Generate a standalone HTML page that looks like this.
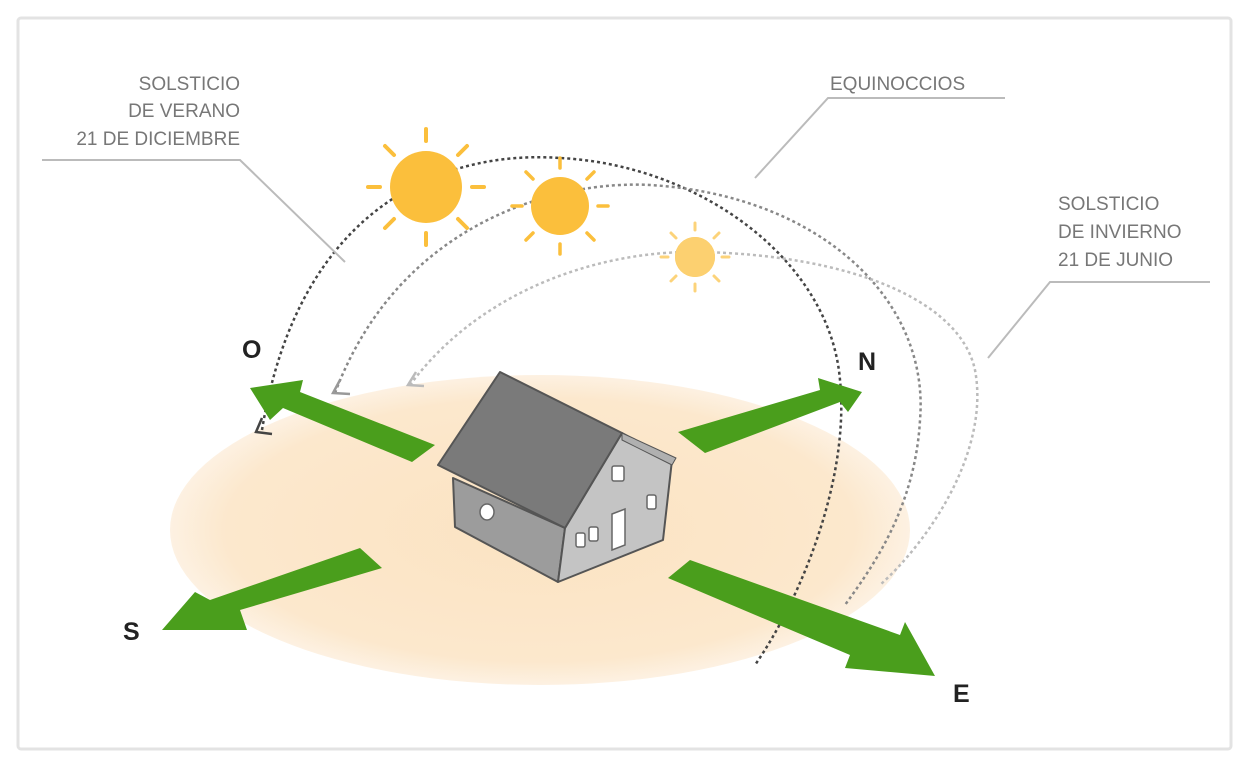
<!DOCTYPE html>
<html><head><meta charset="utf-8"><style>
html,body{margin:0;padding:0;background:#fff;}
svg{display:block;}
text{font-family:"Liberation Sans",sans-serif;}
</style></head><body>
<svg width="1250" height="769" viewBox="0 0 1250 769" xmlns="http://www.w3.org/2000/svg">
<defs>
<radialGradient id="g" cx="0.5" cy="0.5" r="0.5">
<stop offset="0" stop-color="#fbe3c2"/><stop offset="0.85" stop-color="#fce8cd"/><stop offset="1" stop-color="#fdf1e2"/>
</radialGradient>
</defs>
<rect x="18" y="18" width="1213" height="731" fill="#fff" stroke="#e3e3e3" stroke-width="3" rx="3"/>
<ellipse cx="540" cy="530" rx="370" ry="155" fill="url(#g)"/>
<!-- arcs -->
<path d="M262 430 C300 200 450 150 560 158 C700 165 830 260 840 380 C850 480 800 600 755 665" fill="none" stroke="#444" stroke-width="2.5" stroke-dasharray="3,3"/>
<path d="M335 393 C400 220 560 180 650 185 C820 195 930 300 920 420 C915 510 870 570 845 605" fill="none" stroke="#888" stroke-width="2.5" stroke-dasharray="3,3"/>
<path d="M410 385 C480 290 600 250 700 252 C850 255 960 300 975 370 C990 450 930 540 880 585" fill="none" stroke="#bbb" stroke-width="2.5" stroke-dasharray="3,3"/>
<path d="M262 418 L256 432 L272 434" fill="none" stroke="#444" stroke-width="2.5"/>
<path d="M340 380 L333 393 L350 394" fill="none" stroke="#999" stroke-width="2.5"/>
<path d="M416 372 L408 385 L424 386" fill="none" stroke="#bbb" stroke-width="2.5"/>
<!-- leader lines -->
<polyline points="42,160 240,160 345,262" fill="none" stroke="#bbb" stroke-width="2"/>
<polyline points="1005,98 828,98 755,178" fill="none" stroke="#bbb" stroke-width="2"/>
<polyline points="1210,282 1050,282 988,358" fill="none" stroke="#bbb" stroke-width="2"/>
<!-- suns -->
<g fill="#fbbf3c"><circle cx="426" cy="187" r="36"/><circle cx="560" cy="206" r="29"/><circle cx="695" cy="257" r="20"/></g>
<g stroke="#fbbf3c" stroke-width="4" stroke-linecap="round">
<g transform="translate(426,187)"><line x1="0" y1="-46" x2="0" y2="-58"/><line x1="0" y1="46" x2="0" y2="58"/><line x1="46" y1="0" x2="58" y2="0"/><line x1="-46" y1="0" x2="-58" y2="0"/><line x1="32" y1="32" x2="41" y2="41"/><line x1="-32" y1="32" x2="-41" y2="41"/><line x1="32" y1="-32" x2="41" y2="-41"/><line x1="-32" y1="-32" x2="-41" y2="-41"/></g>
<g transform="translate(560,206)" stroke-width="3.5"><line x1="0" y1="-38" x2="0" y2="-48"/><line x1="0" y1="38" x2="0" y2="48"/><line x1="38" y1="0" x2="48" y2="0"/><line x1="-38" y1="0" x2="-48" y2="0"/><line x1="27" y1="27" x2="34" y2="34"/><line x1="-27" y1="27" x2="-34" y2="34"/><line x1="27" y1="-27" x2="34" y2="-34"/><line x1="-27" y1="-27" x2="-34" y2="-34"/></g>
<g transform="translate(695,257)" stroke-width="3" stroke="#fcd37a"><line x1="0" y1="-27" x2="0" y2="-34"/><line x1="0" y1="27" x2="0" y2="34"/><line x1="27" y1="0" x2="34" y2="0"/><line x1="-27" y1="0" x2="-34" y2="0"/><line x1="19" y1="19" x2="24" y2="24"/><line x1="-19" y1="19" x2="-24" y2="24"/><line x1="19" y1="-19" x2="24" y2="-24"/><line x1="-19" y1="-19" x2="-24" y2="-24"/></g>
</g>
<circle cx="695" cy="257" r="20" fill="#fcd070"/>
<!-- green arrows -->
<g fill="#4a9e1c">
<polygon points="435,445 300,392 303,380 250,388 270,420 283,408 412,462"/>
<polygon points="678,432 820,390 818,378 862,392 848,412 840,402 705,453"/>
<polygon points="360,548 382,568 240,610 247,630 162,630 195,592 210,600"/>
<polygon points="668,578 690,560 900,635 905,622 935,676 845,668 850,655"/>
</g>
<!-- house -->
<g stroke="#555" stroke-width="2" stroke-linejoin="round">
<polygon points="453,478 565,528 558,582 455,527" fill="#9c9c9c"/>
<polygon points="565,528 622,433 672,460 663,540 558,582" fill="#c4c4c4"/>
<polygon points="622,433 676,458 672,465 622,440" fill="#b0b0b0" stroke-width="1"/>
<polygon points="500,372 622,433 565,528 438,465" fill="#7a7a7a"/>
</g>
<g fill="#fff" stroke="#666" stroke-width="1.5">
<ellipse cx="487" cy="512" rx="7" ry="8"/>
<rect x="612" y="466" width="12" height="15" rx="2"/>
<rect x="647" y="495" width="9" height="14" rx="2"/>
<rect x="576" y="533" width="9" height="14" rx="2"/>
<rect x="589" y="527" width="9" height="14" rx="2"/>
<polygon points="612,514 625,509 625,545 612,550"/>
</g>
<!-- labels -->
<g fill="#777" font-size="19">
<text x="240" y="90" text-anchor="end">SOLSTICIO</text>
<text x="240" y="117" text-anchor="end">DE VERANO</text>
<text x="240" y="145" text-anchor="end">21 DE DICIEMBRE</text>
<text x="830" y="90">EQUINOCCIOS</text>
<text x="1058" y="210">SOLSTICIO</text>
<text x="1058" y="238">DE INVIERNO</text>
<text x="1058" y="266">21 DE JUNIO</text>
</g>
<g fill="#222" font-size="25" font-weight="bold">
<text x="242" y="358">O</text>
<text x="858" y="370">N</text>
<text x="123" y="640">S</text>
<text x="953" y="702">E</text>
</g>
</svg>
</body></html>
